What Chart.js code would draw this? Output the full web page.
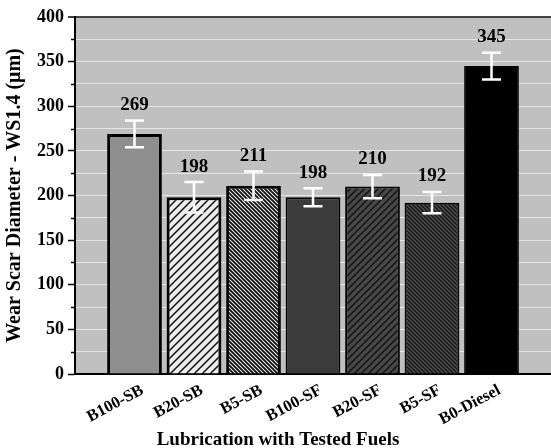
<!DOCTYPE html>
<html>
<head>
<meta charset="utf-8">
<script src="https://cdn.jsdelivr.net/npm/chart.js@4.4.0/dist/chart.umd.min.js"></script>
<style>
    html, body { margin: 0; padding: 0; background: #fff; }
</style>
</head>
<body>
<canvas id="wsdChart" width="551" height="448"></canvas>
<script>
// dati
const fuels = ["B100-SB", "B20-SB", "B5-SB", "B100-SF", "B20-SF", "B5-SF", "B0-Diesel"];
const wsd = [269, 198, 211, 198, 210, 192, 345];
const wsdErr = [15, 17, 16, 10, 13, 12, 15];
const yMin = 0, yMax = 400, yMajor = 50, yMinor = 25;

const serif = "'Liberation Serif', 'Times New Roman', serif";

// tratteggio diagonale
function hatch(bg, line, size, lw, dir) {
    let c = document.createElement("canvas");
    c.width = size; c.height = size;
    let g = c.getContext("2d");
    g.fillStyle = bg;
    g.fillRect(0, 0, size, size);
    g.strokeStyle = line;
    g.lineWidth = lw;
    g.beginPath();
    if (dir === "/") {
        g.moveTo(-size, size); g.lineTo(size, -size);
        g.moveTo(0, size); g.lineTo(size, 0);
        g.moveTo(0, 2 * size); g.lineTo(2 * size, 0);
    } else {
        g.moveTo(-size, 0); g.lineTo(size, 2 * size);
        g.moveTo(0, 0); g.lineTo(size, size);
        g.moveTo(0, -size); g.lineTo(2 * size, size);
    }
    g.stroke();
    return g.createPattern(c, "repeat");
}

const fills = [
    "#8e8e8e",
    hatch("#ececec", "#111", 8, 1.5, "/"),
    hatch("#f2f2f2", "#111", 4, 1.9, "\\"),
    "#3b3b3b",
    hatch("#474747", "#111", 7, 1.4, "/"),
    hatch("#505050", "#161616", 4, 1.4, "\\"),
    "#000"
];
const borders = [3, 3, 3, 2, 2, 2, 1];

const plotDecor = {
    id: "plotDecor",
    beforeDraw(chart) {
        let { ctx, chartArea: a } = chart;
        ctx.save();
        ctx.fillStyle = "#c0c0c0";
        ctx.fillRect(a.left, a.top, a.right - a.left, a.bottom - a.top);
        ctx.restore();
    },
    afterDatasetsDraw(chart) {
        let { ctx } = chart;
        let y = chart.scales.y;
        let meta = chart.getDatasetMeta(0);
        ctx.save();
        ctx.strokeStyle = "#fff";
        ctx.lineWidth = 2.5;
        ctx.font = "bold 19px " + serif;
        ctx.fillStyle = "#000";
        ctx.textAlign = "center";
        ctx.textBaseline = "bottom";
        meta.data.forEach((bar, i) => {
            let x = bar.x;
            let top = y.getPixelForValue(wsd[i] + wsdErr[i]);
            let bot = y.getPixelForValue(wsd[i] - wsdErr[i]);
            ctx.beginPath();
            ctx.moveTo(x, top); ctx.lineTo(x, bot);
            ctx.moveTo(x - 9.5, top); ctx.lineTo(x + 9.5, top);
            ctx.moveTo(x - 9.5, bot); ctx.lineTo(x + 9.5, bot);
            ctx.stroke();
            ctx.fillText(String(wsd[i]), x, top - 6);
        });
        ctx.restore();
    },
    afterDraw(chart) {
        // tacche minori sull'asse y
        let { ctx, chartArea: a } = chart;
        let y = chart.scales.y;
        ctx.save();
        ctx.strokeStyle = "#000";
        ctx.lineWidth = 1.5;
        for (let v = yMin + yMinor; v < yMax; v += yMajor) {
            let py = Math.round(y.getPixelForValue(v)) + 0.5;
            ctx.beginPath();
            ctx.moveTo(a.left - 4, py);
            ctx.lineTo(a.left, py);
            ctx.stroke();
        }
        ctx.restore();
    }
};

let ctx = document.getElementById("wsdChart").getContext("2d");

let wsdChart = new Chart(ctx, {
    type: "bar",
    data: {
        datasets: [{
            data: wsd.map((v, i) => ({ x: i + 1, y: v })),
            backgroundColor: fills,
            borderColor: "#000",
            borderWidth: borders,
            barPercentage: 0.92,
            categoryPercentage: 1
        }]
    },
    options: {
        responsive: false,
        animation: false,
        layout: { padding: { top: 17, left: 5, right: 0, bottom: -2 } },
        plugins: {
            legend: { display: false },
            tooltip: { enabled: false },
            title: {
                display: true,
                position: "bottom",
                text: "Lubrication with Tested Fuels",
                color: "#000",
                font: { family: serif, size: 19, weight: "bold", lineHeight: 1 },
                padding: { top: 3, bottom: 0 }
            }
        },
        scales: {
            x: {
                type: "linear",
                min: 0,
                max: fuels.length + 1,
                offset: false,
                grid: { display: true, drawOnChartArea: false, drawTicks: true, tickLength: 8, tickColor: "rgba(0,0,0,0)" },
                border: { color: "#000", width: 2 },
                ticks: {
                    stepSize: 1,
                    autoSkip: false,
                    minRotation: 28,
                    maxRotation: 28,
                    labelOffset: 8,
                    padding: 0,
                    color: "#000",
                    font: { family: serif, size: 16.5, weight: "bold", lineHeight: 1 },
                    callback: v => fuels[v - 1] || null
                }
            },
            y: {
                min: yMin,
                max: yMax,
                grid: {
                    color: c => c.tick.value === yMax ? "#444" : "#e6e6e6",
                    lineWidth: c => c.tick.value === yMax ? 2 : 1,
                    tickColor: c => c.tick.value % yMajor === 0 ? "#000" : "rgba(0,0,0,0)",
                    tickLength: 7,
                    tickWidth: 1.5
                },
                border: { color: "#000", width: 2 },
                ticks: {
                    stepSize: yMinor,
                    autoSkip: false,
                    padding: 4,
                    color: "#000",
                    font: { family: serif, size: 18, weight: "bold" },
                    callback: v => v % yMajor === 0 ? v : ""
                },
                title: {
                    display: true,
                    text: "Wear Scar Diameter - WS1.4 (\u03bcm)",
                    color: "#000",
                    font: { family: serif, size: 20, weight: "bold", lineHeight: 1 },
                    padding: { top: 0, bottom: 8 }
                }
            }
        }
    },
    plugins: [plotDecor]
});
</script>
</body>
</html>
